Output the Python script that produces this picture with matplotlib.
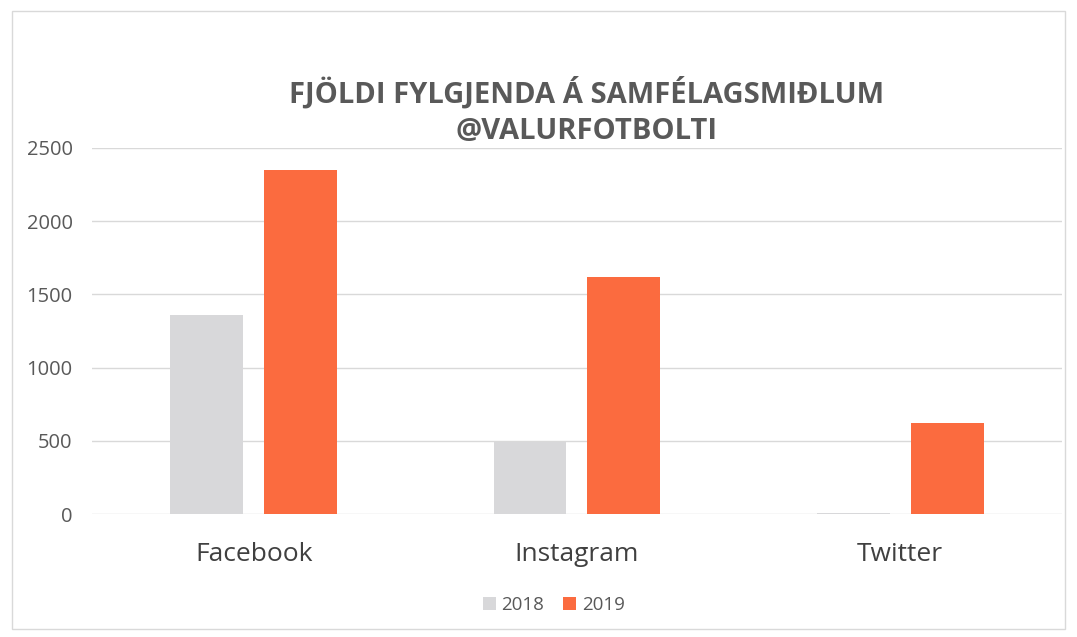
import numpy as np
import matplotlib.pyplot as plt
from matplotlib.patches import Rectangle

platforms = ["Facebook", "Instagram", "Twitter"]
years = ["2018", "2019"]
followers_2018 = [1360, 490, 8]
followers_2019 = [2350, 1620, 620]
yticks = [0, 500, 1000, 1500, 2000, 2500]

plt.rcParams['font.family'] = ['Open Sans', 'DejaVu Sans']

fig = plt.figure(figsize=(10.77, 6.37), dpi=100)
ax = fig.add_axes([0.0854, 0.193, 0.9006, 0.575])

x = np.arange(len(platforms))
w = 0.225
ax.bar(x - 0.145, followers_2018, w, color="#D8D8DA", label=years[0], zorder=2)
ax.bar(x + 0.145, followers_2019, w, color="#FB6B3F", label=years[1], zorder=2)

ax.set_xlim(-0.5, 2.5)
ax.set_ylim(0, 2500)
ax.set_yticks(yticks)
ax.set_yticklabels([str(v) for v in yticks], fontsize=14.5, color="#595959")
ax.set_xticks(x)
ax.set_xticklabels(platforms, fontsize=19, color="#404040")
ax.tick_params(axis="both", length=0)
ax.tick_params(axis="x", pad=20)
ax.tick_params(axis="y", pad=14)
ax.grid(axis="y", color="#D9D9D9", linewidth=1, zorder=0)
for s in ax.spines.values():
    s.set_visible(False)

fig.text(0.545, 0.825, "FJÖLDI FYLGJENDA Á SAMFÉLAGSMIÐLUM\n@VALURFOTBOLTI",
         ha="center", va="center", fontsize=21, fontweight="bold",
         color="#595959", linespacing=1.35)

fig.legend(loc="center", bbox_to_anchor=(0.514, 0.05), ncol=2, frameon=False,
           fontsize=13.5, labelcolor="#595959", handlelength=0.7, handleheight=0.7,
           handletextpad=0.3, columnspacing=1.0)

fig.patches.append(Rectangle((0.011, 0.012), 0.978, 0.97, transform=fig.transFigure,
                             fill=False, edgecolor="#D9D9D9", linewidth=1))

plt.savefig("out.png", dpi=100)
